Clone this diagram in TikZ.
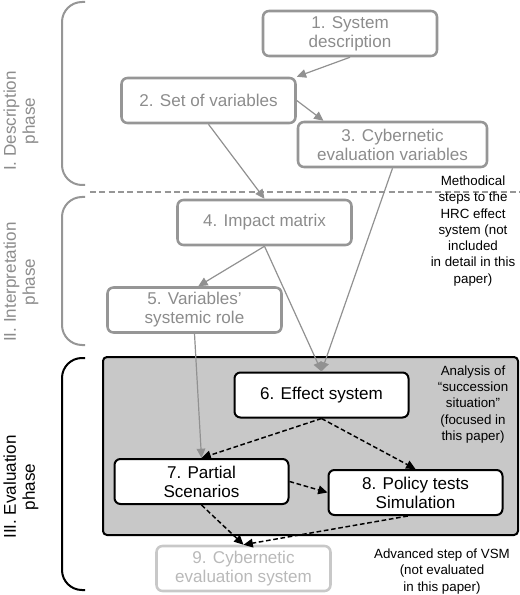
\documentclass[tikz,border=0pt]{standalone}
\usepackage{fontspec}
\setmainfont{Liberation Sans}
\usepackage{tikz}
\usetikzlibrary{arrows.meta,positioning}
\definecolor{phasegray}{RGB}{140,140,140}
\definecolor{boxgray}{RGB}{150,150,150}
\definecolor{linegray}{RGB}{145,145,145}
\definecolor{fadedgray}{RGB}{200,200,200}
\definecolor{fadedtext}{RGB}{185,185,185}
\definecolor{panelgray}{RGB}{200,200,200}
\tikzstyle{every node}=[font=\fontsize{12.8}{14.3}\selectfont]
\tikzstyle{step box}=[rectangle, rounded corners=4.5pt, align=center, inner sep=0pt, minimum width=130.5pt, minimum height=33.75pt]
\tikzstyle{graybox}=[step box, draw=boxgray, line width=1.9pt, text=phasegray]
\tikzstyle{blackbox}=[step box, draw=black, line width=1.5pt, fill=white, text=black]
\tikzstyle{fadedbox}=[step box, draw=fadedgray, line width=1.9pt, text=fadedtext]
\tikzstyle{grayarrow}=[draw=linegray, line width=0.9pt, -{Triangle[length=7pt,width=6.5pt]}]
\tikzstyle{dasharrow}=[draw=black, line width=1.1pt, dash pattern=on 3.5pt off 2pt, -{Triangle[length=7pt,width=6.5pt]}]
\tikzstyle{phasebrace}=[line width=1.5pt, rounded corners=15pt]
\tikzstyle{phaselabel}=[rotate=90, align=center]
\tikzstyle{note}=[align=center, text=black, font=\fontsize{10}{12.2}\selectfont]

\begin{document}
\begin{tikzpicture}[x=0.75pt, y=-0.75pt]
\useasboundingbox (0,0) rectangle (520,595);

\draw[draw=black, line width=1.5pt, fill=panelgray, rounded corners=3pt] (103,357) rectangle (518,535);

\draw[phasebrace, draw=boxgray] (85,2) -- (62,2) -- (62,185) -- (85,185);
\draw[phasebrace, draw=boxgray] (85,197) -- (62,197) -- (62,345) -- (85,345);
\draw[phasebrace, draw=black] (85,358) -- (62,358) -- (62,590) -- (85,590);

\node[phaselabel, text=phasegray] (descr) at (21,121) {I. Description\\phase};
\node[phaselabel, text=phasegray] (interp) at (21,282) {II. Interpretation\\phase};
\node[phaselabel, text=black] (evalu) at (21,487) {III. Evaluation\\phase};

\draw[draw=boxgray, line width=1.1pt, dash pattern=on 4.5pt off 2.5pt] (90,192) -- (520,192);

\node[graybox] (sysdesc) at (350,33.5) {1. System\\description};
\node[graybox] (varset) at (208.5,100.5) {2. Set of variables};
\node[graybox, minimum width=141.75pt] (cybvars) at (392.5,144.5) {3. Cybernetic\\evaluation variables};
\node[graybox] (impact) at (264.5,222.5) {4. Impact matrix};
\node[graybox] (sysrole) at (194.5,310) {5. Variables'\\systemic role};
\node[blackbox] (effect) at (321.5,395) {6. Effect system};
\node[blackbox] (partial) at (201.5,481.5) {7. Partial\\Scenarios};
\node[blackbox] (policy) at (415.5,492.5) {8. Policy tests\\Simulation};
\node[fadedbox] (cybsys) at (243.5,568.5) {9. Cybernetic\\evaluation system};

\node[note] (methodical) at (473,231) {Methodical\\steps to the\\HRC effect\\system (not\\included\\in detail in this\\paper)};
\node[note] (analysis) at (473,404.5) {Analysis of\\``succession\\situation''\\(focused in\\this paper)};
\node[note] (advanced) at (442,571.5) {Advanced step of VSM\\(not evaluated\\in this paper)};

\draw[grayarrow] (sysdesc.south) -- (varset.north east);
\draw[grayarrow] (varset.east) -- (cybvars.161);
\draw[grayarrow] (varset.south) -- (impact.north);
\draw[grayarrow] (impact.south) -- (sysrole.81);
\draw[grayarrow] (impact.south) -- (effect.north);
\draw[grayarrow] (cybvars.south) -- (effect.north);
\draw[grayarrow] (sysrole.south) -- (partial.north);

\draw[dasharrow] (effect.south) -- (partial.north);
\draw[dasharrow] (effect.south) -- (policy.north);
\draw[dasharrow] (partial.east) -- (policy.west);
\draw[dasharrow] (partial.south) -- (cybsys.north);
\draw[dasharrow] (policy.252) -- (cybsys.north);
\end{tikzpicture}
\end{document}
